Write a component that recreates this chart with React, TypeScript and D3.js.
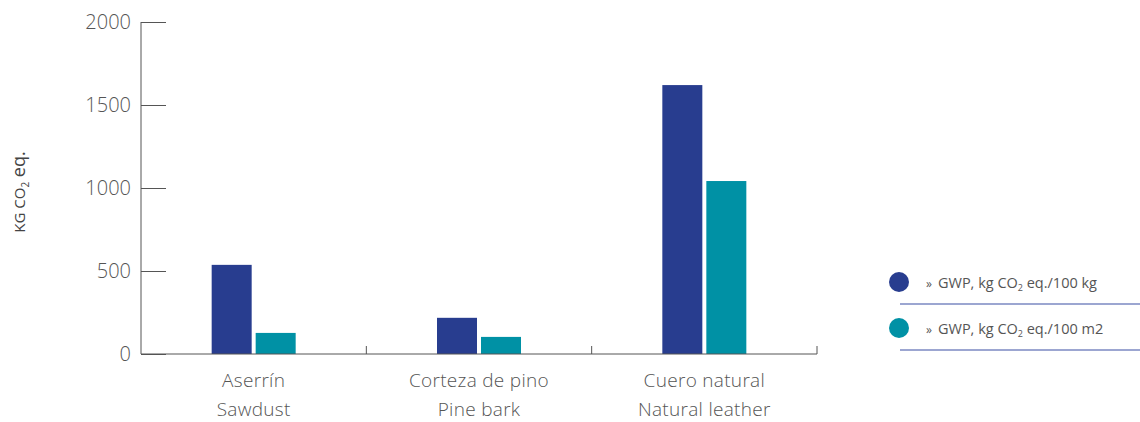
import React, { useEffect, useRef } from "react";
import * as d3 from "d3";

// categories (two lines each)
const categoriesEs = ["Aserrín", "Corteza de pino", "Cuero natural"];
const categoriesEn = ["Sawdust", "Pine bark", "Natural leather"];
const seriesNames = ["GWP, kg CO2 eq./100 kg", "GWP, kg CO2 eq./100 m2"];
const perKg = [537, 218, 1620];
const perM2 = [127, 103, 1042];
const yTicks = [0, 500, 1000, 1500, 2000];
const colors = ["#283d8f", "#0091a5"];

export default function App() {
  const ref = useRef<SVGSVGElement>(null);

  useEffect(() => {
    const svg = d3.select(ref.current);
    svg.selectAll("*").remove();
    const left = 141, right = 817, top = 22, bottom = 354;
    const font = "'Open Sans', sans-serif";

    const x = d3.scaleBand().domain(categoriesEs).range([left, right]);
    const y = d3.scaleLinear().domain([0, 2000]).range([bottom, top]);
    const barW = 40, gap = 4;

    // y axis
    const yAxis = svg.append("g").attr("transform", `translate(${left},0)`)
      .call(d3.axisRight(y).tickValues(yTicks).tickSize(25).tickFormat(() => ""));
    yAxis.select(".domain").attr("stroke", "#555").attr("d", `M0,${top}V${bottom}`);
    yAxis.selectAll(".tick line").attr("stroke", "#555");
    svg.append("g").selectAll("text").data(yTicks).enter().append("text")
      .attr("x", 131).attr("y", (d) => y(d) + 7)
      .attr("text-anchor", "end")
      .attr("font-family", font).attr("font-weight", 300).attr("font-size", 20)
      .attr("fill", "#555").text((d) => d);

    // bars
    const data = categoriesEs.map((c, i) => ({ c, vals: [perKg[i], perM2[i]] }));
    data.forEach((d) => {
      const cx = x(d.c)! + x.bandwidth() / 2;
      d.vals.forEach((v, j) => {
        const bx = j === 0 ? cx - gap / 2 - barW : cx + gap / 2;
        svg.append("rect").attr("x", bx).attr("y", y(v))
          .attr("width", barW).attr("height", y(0) - y(v))
          .attr("fill", colors[j]);
      });
    });

    // x axis
    const xAxis = svg.append("g").attr("transform", `translate(0,${bottom})`)
      .call(d3.axisTop(x).tickSize(0).tickFormat(() => ""));
    xAxis.select(".domain").attr("stroke", "#555").attr("d", `M${left},0H${right}`);
    svg.append("g").selectAll("line").data(categoriesEs).enter().append("line")
      .attr("x1", (d) => x(d)! + x.bandwidth()).attr("x2", (d) => x(d)! + x.bandwidth())
      .attr("y1", bottom - 8).attr("y2", bottom).attr("stroke", "#555");

    const labels = svg.append("g");
    categoriesEs.forEach((c, i) => {
      const cx = x(c)! + x.bandwidth() / 2;
      [c, categoriesEn[i]].forEach((t, k) => {
        labels.append("text").attr("x", cx).attr("y", 387 + k * 29).attr("text-anchor", "middle")
          .attr("font-family", font).attr("font-weight", 300).attr("font-size", 19)
          .attr("letter-spacing", 0.3).attr("fill", "#555").text(t);
      });
    });

    // y label
    const yl = svg.append("text").attr("transform", "translate(25,192) rotate(-90)")
      .attr("text-anchor", "middle").attr("font-family", font)
      .attr("font-size", 18).attr("fill", "#444");
    yl.append("tspan").attr("font-size", 15).text("KG CO");
    yl.append("tspan").attr("font-size", 10).attr("dy", 4).text("2");
    yl.append("tspan").attr("dy", -4).text(" eq.");

    // legend
    seriesNames.forEach((s, i) => {
      const ly = 282 + i * 46;
      svg.append("circle").attr("cx", 899).attr("cy", ly).attr("r", 10).attr("fill", colors[i]);
      const t = svg.append("text").attr("x", 926).attr("y", ly + 6)
        .attr("font-family", font).attr("font-size", 14.5).attr("fill", "#555");
      const [a, b] = s.split("CO2");
      t.append("tspan").attr("font-size", 12).text("»");
      t.append("tspan").attr("dx", 6).text(a + "CO");
      t.append("tspan").attr("font-size", 9).attr("dy", 3).text("2");
      t.append("tspan").attr("dy", -3).text(b);
      svg.append("line").attr("x1", 900).attr("x2", 1140)
        .attr("y1", ly + 22).attr("y2", ly + 22)
        .attr("stroke", "#7b88c2").attr("stroke-width", 1.5);
    });
  }, []);

  return (
    <svg ref={ref} width={1140} height={422}
      style={{ position: "absolute", left: 0, top: 0, background: "#fff" }} />
  );
}
